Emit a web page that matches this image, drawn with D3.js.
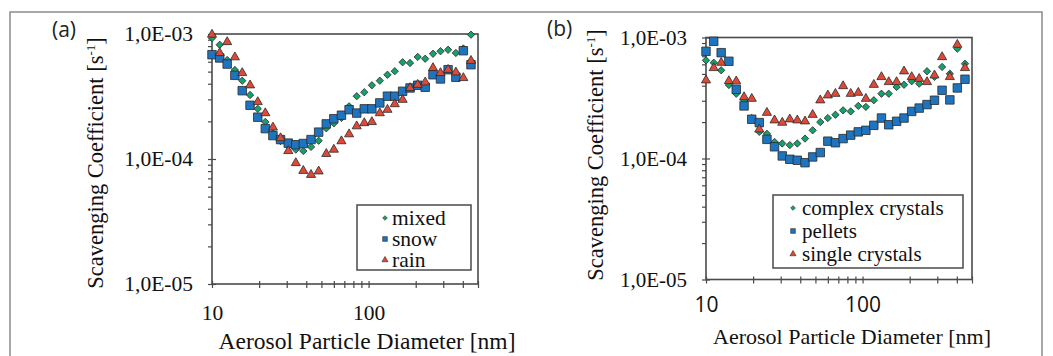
<!DOCTYPE html>
<html>
<head>
<meta charset="utf-8">
<script src="https://cdn.jsdelivr.net/npm/d3@7"></script>
<style>
  body { margin: 0; background: #fff; }
  svg { display: block; }
  .ax path { display: none; }
  .ax line { stroke: #4a4a4a; stroke-width: 1.2; }
</style>
</head>
<body>
<svg id="chart" width="1053" height="356"></svg>
<script>
// particle diameter bins [nm], shared by both panels
const diameters = [10.0, 11.2, 12.5, 14.0, 15.6, 17.5, 19.6, 21.9, 24.5, 27.4, 30.7, 34.3, 38.3, 42.9, 48.0,
  53.7, 60.0, 67.1, 75.1, 84.0, 93.9, 105, 118, 132, 147, 165, 184, 206, 230, 258, 288, 322, 361, 403, 451];

// panel (a): precipitation type
const mixed = [9.29e-4, 8.20e-4, 6.19e-4, 5.15e-4, 4.23e-4, 3.25e-4, 2.52e-4, 1.98e-4, 1.61e-4, 1.39e-4, 1.27e-4, 1.19e-4,
  1.16e-4, 1.25e-4, 1.40e-4, 1.76e-4, 1.93e-4, 2.13e-4, 2.64e-4, 3.18e-4, 3.42e-4, 3.89e-4, 4.23e-4, 4.72e-4,
  5.04e-4, 5.94e-4, 5.86e-4, 6.55e-4, 6.34e-4, 6.95e-4, 7.28e-4, 7.48e-4, 7.05e-4, 7.66e-4, 9.87e-4];
const snow = [6.83e-4, 6.43e-4, 5.75e-4, 4.67e-4, 3.52e-4, 2.69e-4, 2.16e-4, 1.75e-4, 1.54e-4, 1.43e-4, 1.34e-4, 1.30e-4,
  1.33e-4, 1.43e-4, 1.64e-4, 1.91e-4, 2.10e-4, 2.24e-4, 2.48e-4, 2.33e-4, 2.52e-4, 2.52e-4, 2.81e-4, 3.18e-4,
  3.18e-4, 3.48e-4, 3.70e-4, 3.89e-4, 3.75e-4, 4.72e-4, 4.37e-4, 5.18e-4, 4.51e-4, 7.35e-4, 5.68e-4];
const rain = [9.90e-4, 7.05e-4, 8.63e-4, 6.52e-4, 4.88e-4, 3.89e-4, 2.86e-4, 2.33e-4, 1.79e-4, 1.47e-4, 1.16e-4, 9.29e-5,
  8.05e-5, 7.48e-5, 7.97e-5, 1.10e-4, 1.19e-4, 1.39e-4, 1.58e-4, 1.83e-4, 1.94e-4, 1.98e-4, 2.33e-4, 2.48e-4,
  2.75e-4, 2.98e-4, 3.70e-4, 3.93e-4, 4.11e-4, 5.35e-4, 4.88e-4, 5.18e-4, 4.94e-4, 4.45e-4, 6.11e-4];

// panel (b): snow crystal type
const complexCrystals = [6.48e-4, 6.19e-4, 5.36e-4, 4.05e-4, 3.43e-4, 3.03e-4, 2.16e-4, 1.66e-4, 1.60e-4, 1.37e-4, 1.33e-4, 1.29e-4,
  1.33e-4, 1.46e-4, 1.71e-4, 2.00e-4, 2.16e-4, 2.30e-4, 2.50e-4, 2.45e-4, 2.72e-4, 2.67e-4, 3.03e-4, 3.43e-4,
  3.43e-4, 3.90e-4, 4.07e-4, 4.35e-4, 4.15e-4, 5.26e-4, 4.72e-4, 5.71e-4, 5.02e-4, 8.08e-4, 6.07e-4];
const pellets = [7.69e-4, 9.30e-4, 7.49e-4, 6.36e-4, 3.73e-4, 2.72e-4, 2.11e-4, 1.98e-4, 1.44e-4, 1.25e-4, 1.05e-4, 9.85e-5,
  9.67e-5, 9.23e-5, 1.03e-4, 1.12e-4, 1.39e-4, 1.35e-4, 1.46e-4, 1.56e-4, 1.66e-4, 1.71e-4, 1.88e-4, 2.16e-4,
  1.90e-4, 2.03e-4, 2.16e-4, 2.45e-4, 2.61e-4, 2.79e-4, 3.03e-4, 3.66e-4, 3.05e-4, 3.83e-4, 4.52e-4];
const singleCrystals = [4.43e-4, 5.60e-4, 6.19e-4, 4.37e-4, 4.35e-4, 3.22e-4, 3.12e-4, 1.74e-4, 2.39e-4, 2.07e-4, 1.98e-4, 2.11e-4,
  2.07e-4, 2.03e-4, 2.30e-4, 3.03e-4, 3.33e-4, 3.43e-4, 3.97e-4, 3.43e-4, 3.50e-4, 3.12e-4, 4.07e-4, 4.72e-4,
  4.29e-4, 4.29e-4, 5.26e-4, 4.72e-4, 4.56e-4, 4.29e-4, 4.87e-4, 6.90e-4, 4.72e-4, 8.72e-4, 5.60e-4];

// axes
const xDomain = [10, 500];
const yDomain = [1e-5, 1e-3];
const xLabels = [10, 100];
const yLabels = [1e-5, 1e-4, 1e-3];
const xTitle = "Aerosol Particle Diameter [nm]";

const SERIF = "'Liberation Serif', 'Times New Roman', serif";
const SANS = "'Open Sans', 'Noto Sans', sans-serif";

const GREEN = "#17a06c", BLUE = "#1f74bf", RED = "#de4a37", EDGE = "#2a2a2a";

const panels = [
  {
    tag: "(a)", tagX: 52, tagY: 37,
    x0: 212, x1: 478, y0: 34, y1: 284,
    series: [
      {name: "mixed", values: mixed, shape: "diamond", color: GREEN},
      {name: "snow", values: snow, shape: "square", color: BLUE},
      {name: "rain", values: rain, shape: "triangle", color: RED}
    ],
    legend: {x: 357, y: 205, w: 114, h: 65, base: [225, 246, 267], markX: 385, textX: 392, fs: 21.5},
    tickFs: 21.5, titleFs: 23.5, xTickFont: SERIF, xTickY: 36, xTitleX: 367, xTitleY: 349,
    yTitleX: 103, yTitleY: 163
  },
  {
    tag: "(b)", tagX: 547, tagY: 36,
    x0: 706, x1: 972, y0: 37.5, y1: 279.5,
    series: [
      {name: "complex crystals", values: complexCrystals, shape: "diamond", color: GREEN},
      {name: "pellets", values: pellets, shape: "square", color: BLUE},
      {name: "single crystals", values: singleCrystals, shape: "triangle", color: RED}
    ],
    legend: {x: 773, y: 195, w: 190, h: 73, base: [215, 238, 261], markX: 793, textX: 802, fs: 21},
    tickFs: 21, titleFs: 22, xTickFont: SANS, xTickY: 32, xTitleX: 852, xTitleY: 344,
    yTitleX: 603, yTitleY: 155
  }
];

const shapes = {diamond: d3.symbolDiamond2, square: d3.symbolSquare, triangle: d3.symbolTriangle};
const plotSize = {diamond: 34, square: 72, triangle: 36};
const legendSize = {diamond: 14, square: 22, triangle: 16};

function fmtE(d) {
  const e = Math.round(Math.log10(d));
  return "1,0E" + (e < 0 ? "-" : "+") + String(Math.abs(e)).padStart(2, "0");
}

// minor tick values for log axes
function logTicks(lo, hi) {
  const out = [];
  for (let dec = lo; dec < hi * 0.999; dec *= 10) {
    for (let k = 1; k < 10; k++) {
      const v = dec * k;
      if (v <= hi * 1.0001) out.push(v);
    }
  }
  out.push(hi);
  return out;
}

const svg = d3.select("#chart");

// outer frame of the figure
svg.append("path")
  .attr("d", "M10,362 V12 H1042 V362")
  .attr("fill", "none")
  .attr("stroke", "#8c8c8c")
  .attr("stroke-width", 1.5);

panels.forEach(p => {
  const x = d3.scaleLog().domain(xDomain).range([p.x0, p.x1]);
  const y = d3.scaleLog().domain(yDomain).range([p.y1, p.y0]);
  const g = svg.append("g");

  // plot area
  g.append("rect")
    .attr("x", p.x0).attr("y", p.y0)
    .attr("width", p.x1 - p.x0).attr("height", p.y1 - p.y0)
    .attr("fill", "#fff");

  // y ticks: minors outside, majors crossing
  const yAll = logTicks(yDomain[0], yDomain[1]);
  g.append("g").attr("class", "ax").attr("transform", `translate(${p.x0},0)`)
    .call(d3.axisLeft(y).tickValues(yAll).tickSize(4).tickFormat(""));
  g.append("g").attr("class", "ax").attr("transform", `translate(${p.x0},0)`)
    .call(d3.axisLeft(y).tickValues(yLabels).tickSize(-4).tickFormat(""));
  const yl = g.append("g").attr("class", "ax").attr("transform", `translate(${p.x0},0)`)
    .call(d3.axisLeft(y).tickValues(yLabels).tickSize(0).tickPadding(19).tickFormat(fmtE));
  yl.selectAll("text")
    .attr("font-family", SERIF).attr("font-size", p.tickFs).attr("fill", "#111");

  // x ticks
  const xAll = logTicks(10, 1000).filter(v => v <= xDomain[1]);
  g.append("g").attr("class", "ax").attr("transform", `translate(0,${p.y1})`)
    .call(d3.axisBottom(x).tickValues(xAll).tickSize(4).tickFormat(""));
  g.append("g").attr("class", "ax").attr("transform", `translate(0,${p.y1})`)
    .call(d3.axisBottom(x).tickValues(xAll).tickSize(-3).tickFormat(""));
  const xl = g.append("g").attr("class", "ax").attr("transform", `translate(0,${p.y1})`)
    .call(d3.axisBottom(x).tickValues(xLabels).tickSize(0).tickFormat(d3.format("d")));
  xl.selectAll("text")
    .attr("dy", null).attr("y", p.xTickY)
    .attr("font-family", p.xTickFont).attr("font-size", p.tickFs).attr("fill", "#111");

  // frame of the plot
  g.append("rect")
    .attr("x", p.x0).attr("y", p.y0)
    .attr("width", p.x1 - p.x0).attr("height", p.y1 - p.y0)
    .attr("fill", "none").attr("stroke", "#4a4a4a").attr("stroke-width", 1.6);

  // markers, series drawn in legend order (last on top)
  p.series.forEach(s => {
    const sym = d3.symbol().type(shapes[s.shape]).size(plotSize[s.shape]);
    g.append("g").selectAll("path")
      .data(diameters.map((d, i) => ({d, v: s.values[i]})))
      .join("path")
      .attr("transform", o => `translate(${x(o.d)},${y(o.v)})`)
      .attr("d", sym)
      .attr("fill", s.color)
      .attr("stroke", EDGE)
      .attr("stroke-width", 0.8);
  });

  // legend
  const L = p.legend;
  g.append("rect")
    .attr("x", L.x).attr("y", L.y).attr("width", L.w).attr("height", L.h)
    .attr("fill", "#fff").attr("stroke", "#4a4a4a").attr("stroke-width", 1.5);
  const items = g.append("g").selectAll("g").data(p.series).join("g");
  items.append("path")
    .attr("transform", (s, i) => `translate(${L.markX},${L.base[i] - 7})`)
    .attr("d", s => d3.symbol().type(shapes[s.shape]).size(legendSize[s.shape])())
    .attr("fill", s => s.color).attr("stroke", EDGE).attr("stroke-width", 0.6);
  items.append("text")
    .attr("x", L.textX).attr("y", (s, i) => L.base[i])
    .attr("font-family", SERIF).attr("font-size", L.fs).attr("fill", "#111")
    .text(s => s.name);

  // axis titles
  g.append("text")
    .attr("x", p.xTitleX).attr("y", p.xTitleY)
    .attr("text-anchor", "middle")
    .attr("font-family", SERIF).attr("font-size", p.titleFs).attr("fill", "#111")
    .text(xTitle);

  const yt = g.append("text")
    .attr("transform", `translate(${p.yTitleX},${p.yTitleY}) rotate(-90)`)
    .attr("text-anchor", "middle")
    .attr("font-family", SERIF).attr("font-size", 22.5).attr("fill", "#111");
  yt.append("tspan").text("Scavenging Coefficient [s");
  yt.append("tspan").attr("dy", -8).attr("font-size", 13).text("-1");
  yt.append("tspan").attr("dy", 8).text("]");

  // panel tag
  g.append("text")
    .attr("x", p.tagX).attr("y", p.tagY)
    .attr("font-family", SANS).attr("font-size", 21).attr("fill", "#222")
    .text(p.tag);
});
</script>
</body>
</html>
